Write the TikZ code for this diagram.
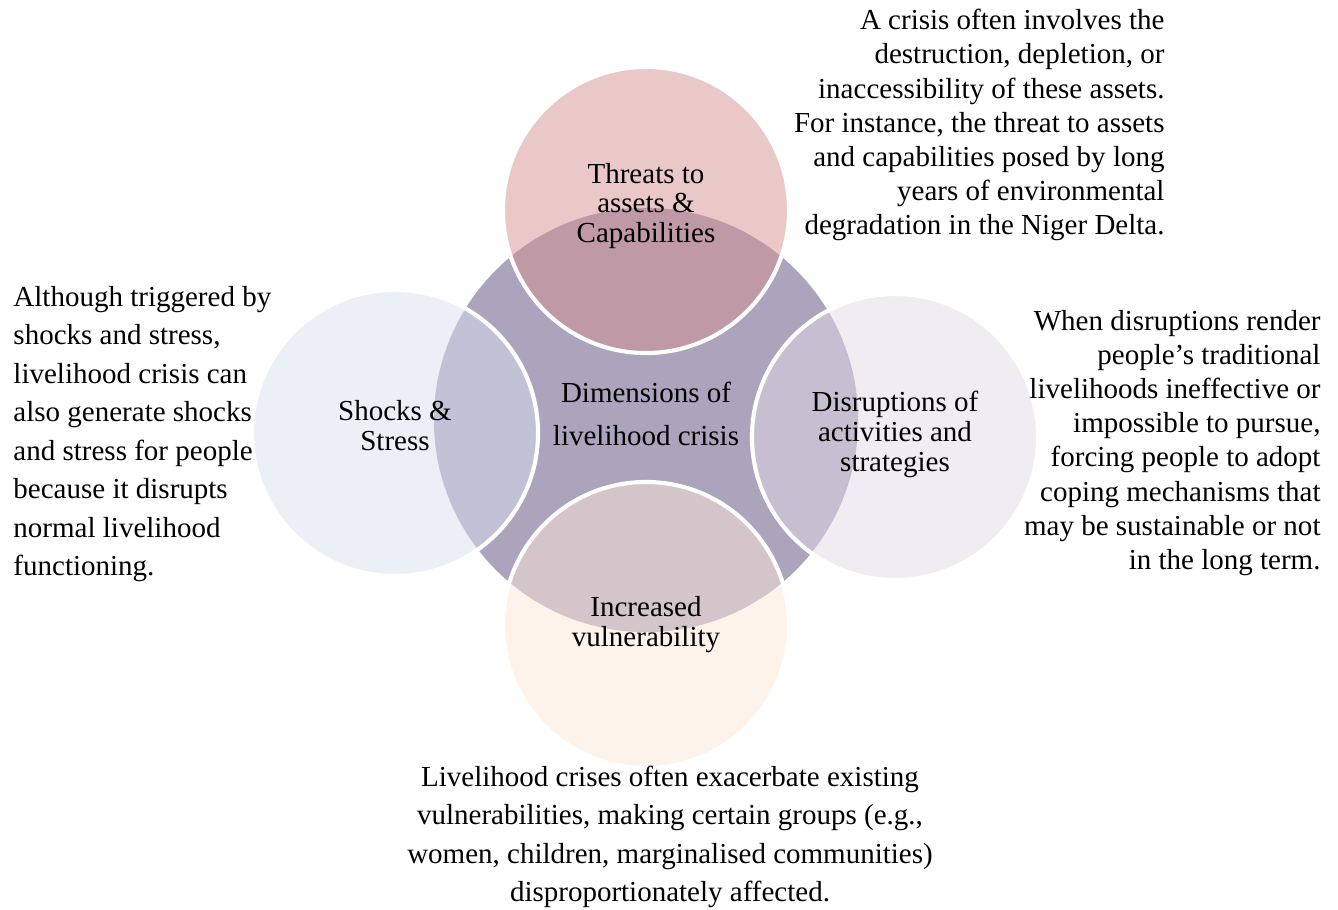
\documentclass[tikz,border=0pt]{standalone}
\usepackage{fontspec}
\setmainfont{Liberation Serif}
\definecolor{crisisfill}{RGB}{172,163,189}
\definecolor{threatfill}{RGB}{213,145,145}
\definecolor{shockfill}{RGB}{215,225,239}
\definecolor{disruptfill}{RGB}{223,219,229}
\definecolor{vulnfill}{RGB}{251,231,215}
\begin{document}
\begin{tikzpicture}[x=0.01454cm, y=-0.01454cm]
  % Define styles
  \tikzstyle{core} = [circle, minimum size=6.17cm, inner sep=0pt, fill=crisisfill]
  \tikzstyle{dim} = [circle, minimum size=4.16cm, inner sep=0pt, draw=white, line width=1.7pt,
                     fill opacity=0.5]
  \tikzstyle{dimtext} = [align=center, inner sep=0pt, font=\fontsize{12}{12.4}\selectfont]
  \tikzstyle{note} = [inner sep=0pt, font=\fontsize{12}{15.9}\selectfont]

  \useasboundingbox (0,0) rectangle (1338,909);

  % Circles
  \node (crisis) [core] at (646,420) {};
  \node (threat) [dim, fill=threatfill] at (646,210) {};
  \node (shock) [dim, fill=shockfill] at (395,433) {};
  \node (disrupt) [dim, fill=disruptfill] at (895,437) {};
  \node (vuln) [dim, fill=vulnfill] at (646,625) {};

  % Labels
  \node (crisislabel) [dimtext, font=\fontsize{12}{17.8}\selectfont] at (646,414) {Dimensions of\\livelihood crisis};
  \node (threatlabel) [dimtext] at (646,206) {Threats to\\assets \&\\Capabilities};
  \node (shocklabel) [dimtext] at (395,426) {Shocks \&\\Stress};
  \node (disruptlabel) [dimtext] at (895,434) {Disruptions of\\activities and\\strategies};
  \node (vulnlabel) [dimtext] at (646,625) {Increased\\vulnerability};

  % Notes
  \node (threatnote) [note, align=right, anchor=east, font=\fontsize{12}{14.1}\selectfont] at (1165,125)
    {A crisis often involves the\\destruction, depletion, or\\inaccessibility of these assets.\\For instance, the threat to assets\\and capabilities posed by long\\years of environmental\\degradation in the Niger Delta.};
  \node (disruptnote) [note, align=right, anchor=east, font=\fontsize{12}{14.1}\selectfont] at (1321,443)
    {When disruptions render\\people’s traditional\\livelihoods ineffective or\\impossible to pursue,\\forcing people to adopt\\coping mechanisms that\\may be sustainable or not\\in the long term.};
  \node (shocknote) [note, align=left, anchor=west] at (13,434)
    {Although triggered by\\shocks and stress,\\livelihood crisis can\\also generate shocks\\and stress for people\\because it disrupts\\normal livelihood\\functioning.};
  \node (vulnnote) [note, align=center] at (670,837)
    {Livelihood crises often exacerbate existing\\vulnerabilities, making certain groups (e.g.,\\women, children, marginalised communities)\\disproportionately affected.};
\end{tikzpicture}
\end{document}
